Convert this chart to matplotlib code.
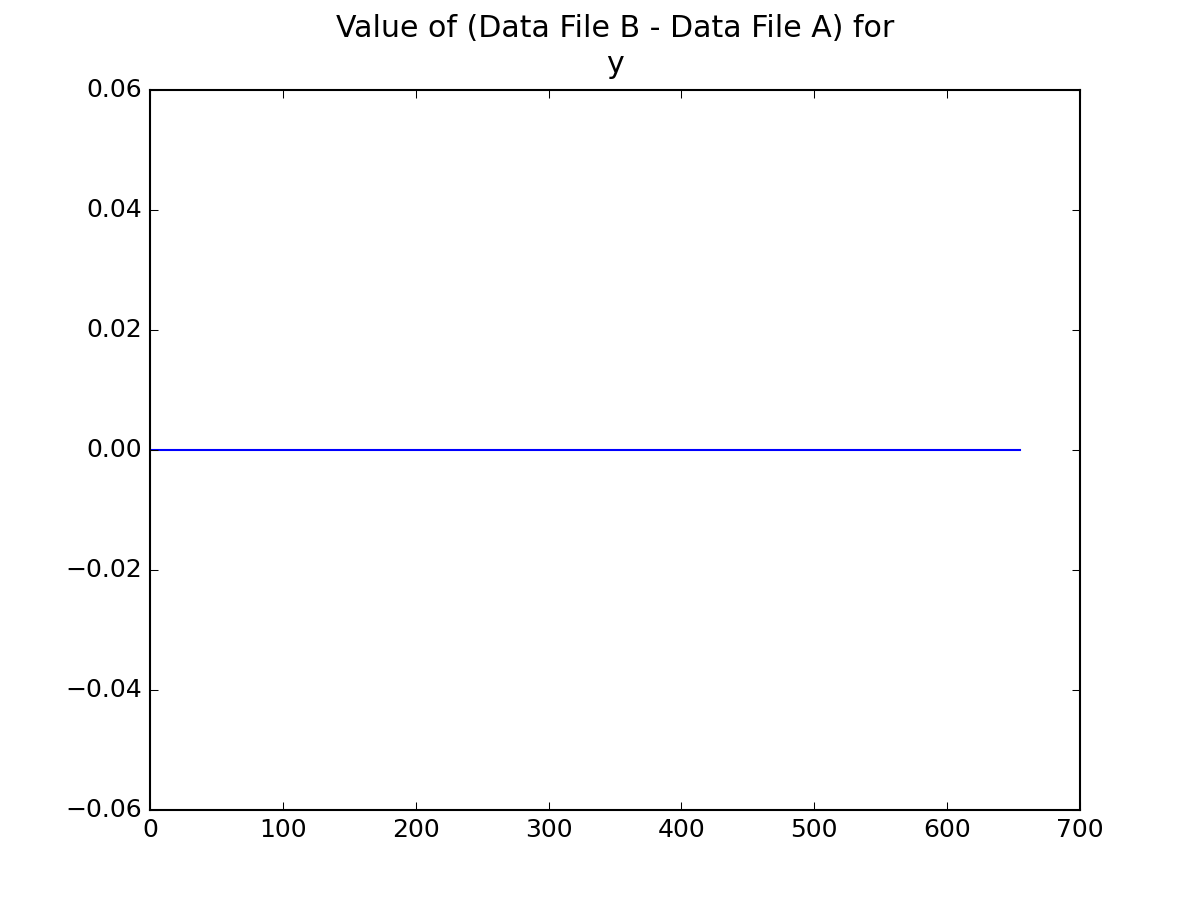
import numpy as np
import matplotlib
matplotlib.use("Agg")
import matplotlib.pyplot as plt

# difference between the two data files, constant zero over the whole range
x_values = [0, 655]
y_diff = [0.0, 0.0]

plt.style.use('classic')

fig = plt.figure(figsize=(8, 6))
ax = fig.add_axes([0.125, 0.1, 0.775, 0.8])
ax.plot(x_values, y_diff, color='b', linewidth=1)
ax.set_xlim(0, 700)
ax.set_ylim(-0.06, 0.06)
ax.set_xticks(np.arange(0, 701, 100))
ax.set_yticks(np.arange(-0.06, 0.061, 0.02))
ax.set_title("Value of (Data File B - Data File A) for\ny", pad=8, linespacing=1.3)

fig.savefig("out.png", dpi=150, facecolor='white')
